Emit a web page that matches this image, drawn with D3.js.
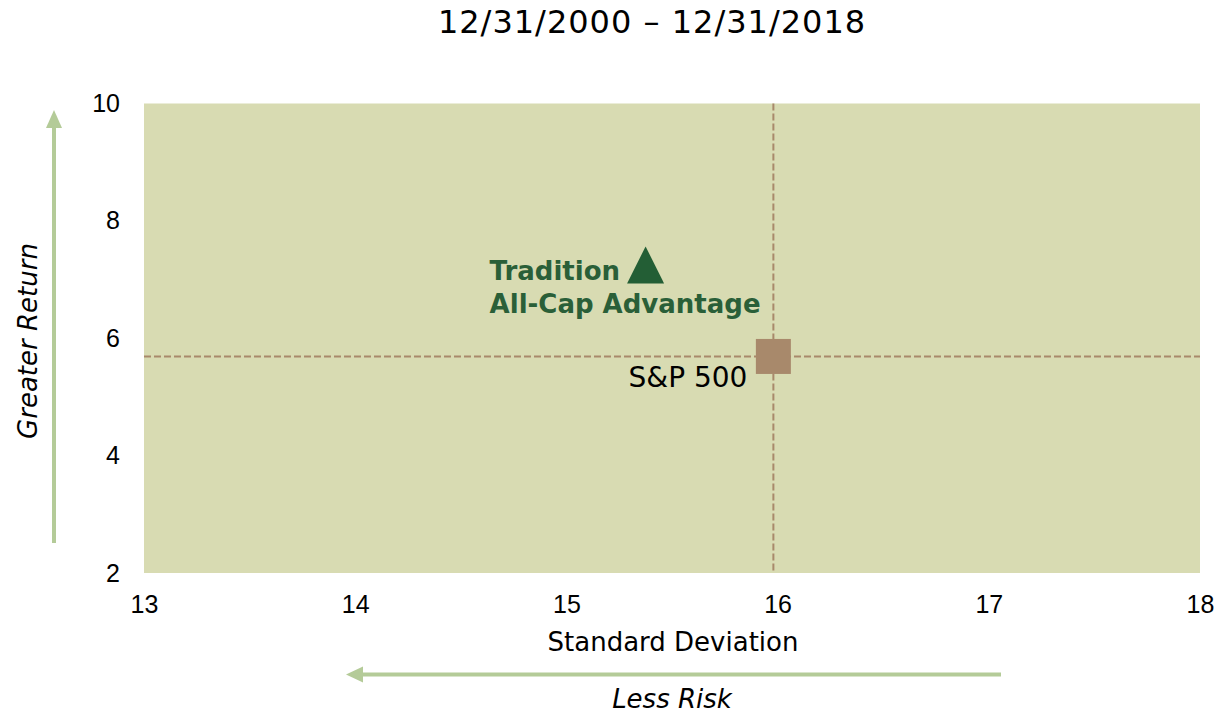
<!DOCTYPE html>
<html>
<head>
<meta charset="utf-8">
<script src="https://cdn.jsdelivr.net/npm/d3@7"></script>
<style>
  body { margin: 0; background: #fff; }
  text { fill: #000; }
</style>
</head>
<body>
<div id="chart-area"></div>
<script>
// Data
let xTicks = [13, 14, 15, 16, 17, 18]
let yTicks = [2, 4, 6, 8, 10]
let names = ['Tradition All-Cap Advantage', 'S&P 500']
let stdDev = [15.375, 15.98]
let returns = [7.25, 5.69]
let title = '12/31/2000 \u2013 12/31/2018'

let W = 1218, H = 715
let margin = { left: 144, right: 18, top: 103.5, bottom: 142 }

let svg = d3.select('#chart-area').append('svg')
  .attr('width', W)
  .attr('height', H)

let x = d3.scaleLinear().domain([13, 18]).range([margin.left, W - margin.right])
let y = d3.scaleLinear().domain([2, 10]).range([H - margin.bottom, margin.top])

let green = '#b4cb98'
let brown = '#a8896b'
let dark = '#235e35'

// Plot background
svg.append('rect')
  .attr('x', x(13)).attr('y', y(10))
  .attr('width', x(18) - x(13)).attr('height', y(2) - y(10))
  .attr('fill', '#d8dbb2')

// Title
svg.append('text')
  .attr('x', 652).attr('y', 33)
  .attr('text-anchor', 'middle')
  .style('font-family', 'DejaVu Sans')
  .style('font-size', '32px')
  .style('letter-spacing', '1px')
  .text(title)

// Axes
let xAxis = svg.append('g')
  .attr('transform', 'translate(0,' + y(2) + ')')
  .call(d3.axisBottom(x).tickValues(xTicks).tickFormat(d3.format('d')).tickSize(0).tickPadding(22))
let yAxis = svg.append('g')
  .attr('transform', 'translate(' + (x(13) - 24) + ',0)')
  .call(d3.axisLeft(y).tickValues(yTicks).tickFormat(d3.format('d')).tickSize(0).tickPadding(0))
;[xAxis, yAxis].forEach((a) => {
  a.attr('font-family', null).attr('font-size', null)
  a.select('.domain').remove()
  a.selectAll('text')
    .style('font-family', "'Liberation Sans', Arial, sans-serif")
    .style('font-size', '25px')
    .attr('fill', '#000')
})

// Axis titles
svg.append('text')
  .attr('x', 673).attr('y', 651)
  .attr('text-anchor', 'middle')
  .style('font-family', 'DejaVu Sans')
  .style('font-size', '26px')
  .text('Standard Deviation')
svg.append('text')
  .attr('x', 672).attr('y', 708)
  .attr('text-anchor', 'middle')
  .style('font-family', 'DejaVu Sans')
  .style('font-style', 'italic')
  .style('font-size', '26px')
  .text('Less Risk')
svg.append('text')
  .attr('transform', 'translate(37,341) rotate(-90)')
  .attr('text-anchor', 'middle')
  .style('font-family', 'DejaVu Sans')
  .style('font-style', 'italic')
  .style('font-size', '26px')
  .text('Greater Return')

// Arrows
svg.append('line')
  .attr('x1', 54).attr('y1', 543).attr('x2', 54).attr('y2', 126)
  .attr('stroke', green).attr('stroke-width', 4)
svg.append('path')
  .attr('d', 'M54,110 L62,128 L46,128 Z')
  .attr('fill', green)
svg.append('line')
  .attr('x1', 1001).attr('y1', 674.5).attr('x2', 360).attr('y2', 674.5)
  .attr('stroke', green).attr('stroke-width', 4)
svg.append('path')
  .attr('d', 'M346,674.5 L363,666.5 L363,682.5 Z')
  .attr('fill', green)

// Cross-hair lines through S&P 500
svg.append('line')
  .attr('x1', x(13)).attr('x2', x(18))
  .attr('y1', y(returns[1])).attr('y2', y(returns[1]))
  .attr('stroke', brown).attr('stroke-width', 2).attr('stroke-dasharray', '7,3')
svg.append('line')
  .attr('x1', x(stdDev[1])).attr('x2', x(stdDev[1]))
  .attr('y1', y(10)).attr('y2', y(2))
  .attr('stroke', brown).attr('stroke-width', 2).attr('stroke-dasharray', '7,3')

// Markers
svg.append('rect')
  .attr('x', x(stdDev[1]) - 17.5).attr('y', y(returns[1]) - 17.5)
  .attr('width', 35).attr('height', 35)
  .attr('fill', brown)
svg.append('path')
  .attr('transform', 'translate(' + x(stdDev[0]) + ',' + y(returns[0]) + ')')
  .attr('d', 'M0,-18.5 L18.5,18.5 L-18.5,18.5 Z')
  .attr('fill', dark)

// Labels
let lab = svg.append('text')
  .attr('x', x(stdDev[0]) - 156)
  .attr('y', y(returns[0]) + 15)
  .style('font-family', 'DejaVu Sans')
  .style('font-weight', 'bold')
  .style('font-size', '26px')
  .style('fill', '#2a5f38')
lab.append('tspan').text('Tradition')
lab.append('tspan')
  .attr('x', x(stdDev[0]) - 156).attr('dy', 33)
  .text('All-Cap Advantage')

svg.append('text')
  .attr('x', x(stdDev[1]) - 26)
  .attr('y', y(returns[1]) + 31)
  .attr('text-anchor', 'end')
  .style('font-family', 'DejaVu Sans')
  .style('font-size', '28px')
  .text(names[1])
</script>
</body>
</html>
